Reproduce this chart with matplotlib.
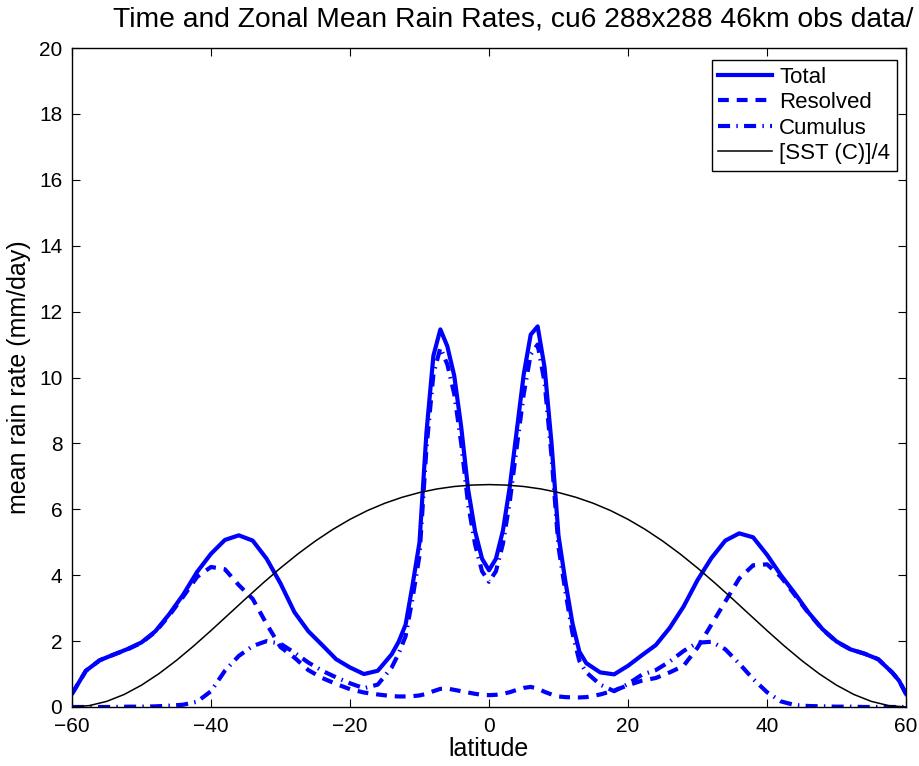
import numpy as np
import matplotlib
matplotlib.use("Agg")
import matplotlib.pyplot as plt

plt.rcParams['font.family'] = ['Liberation Sans', 'DejaVu Sans']

lat = [-60, -59, -58, -56, -54, -52, -50, -48, -46, -44, -42, -40, -38, -36, -34, -32,
       -30, -28, -26, -24, -22, -20, -18, -16, -14, -13, -12, -11, -10, -9, -8, -7, -6,
       -5, -4, -3, -2, -1, 0, 1, 2, 3, 4, 5, 6, 7, 8, 9, 10, 11, 12, 13, 14, 16, 18, 20,
       22, 24, 26, 28, 30, 32, 34, 36, 38, 40, 42, 44, 46, 48, 50, 52, 54, 56, 58, 59, 60]

total = [0.40, 0.75, 1.10, 1.42, 1.59, 1.76, 1.96, 2.30, 2.82, 3.41, 4.10, 4.65, 5.07, 5.21,
         5.05, 4.50, 3.75, 2.88, 2.30, 1.88, 1.45, 1.20, 1.00, 1.10, 1.60, 1.98, 2.50, 3.70,
         5.00, 8.33, 10.66, 11.46, 10.95, 10.05, 8.50, 6.60, 5.33, 4.50, 4.15, 4.50, 5.35,
         6.70, 8.40, 10.10, 11.30, 11.55, 10.30, 8.00, 5.20, 3.80, 2.55, 1.68, 1.33, 1.05,
         0.99, 1.25, 1.57, 1.88, 2.40, 3.05, 3.85, 4.52, 5.05, 5.27, 5.15, 4.62, 4.00, 3.45,
         2.86, 2.36, 1.99, 1.75, 1.62, 1.45, 1.05, 0.80, 0.40]

resolved = [0.40, 0.75, 1.10, 1.42, 1.59, 1.75, 1.95, 2.28, 2.78, 3.35, 3.95, 4.25, 4.18, 3.70,
            3.28, 2.52, 1.82, 1.50, 1.12, 0.88, 0.70, 0.54, 0.44, 0.38, 0.33, 0.32, 0.32, 0.33,
            0.35, 0.40, 0.48, 0.55, 0.56, 0.52, 0.48, 0.44, 0.40, 0.37, 0.36, 0.37, 0.40, 0.45,
            0.52, 0.58, 0.61, 0.56, 0.46, 0.38, 0.32, 0.30, 0.29, 0.29, 0.30, 0.38, 0.50, 0.66,
            0.80, 0.88, 1.05, 1.25, 1.80, 2.50, 3.20, 3.90, 4.30, 4.33, 3.95, 3.40, 2.84, 2.35,
            1.98, 1.75, 1.62, 1.45, 1.05, 0.80, 0.40]

cumulus = [0.0, 0.0, 0.0, 0.0, 0.0, 0.01, 0.01, 0.02, 0.04, 0.07, 0.16, 0.48, 1.10, 1.55, 1.85,
           2.00, 1.92, 1.65, 1.35, 1.10, 0.90, 0.72, 0.57, 0.68, 1.20, 1.62, 2.15, 3.30, 4.60,
           7.85, 10.10, 10.90, 10.40, 9.50, 8.00, 6.15, 4.93, 4.12, 3.80, 4.12, 4.95, 6.25,
           7.90, 9.50, 10.70, 11.00, 9.85, 7.60, 4.85, 3.50, 2.25, 1.40, 1.05, 0.68, 0.48,
           0.70, 0.98, 1.12, 1.38, 1.70, 1.95, 1.98, 1.75, 1.32, 0.85, 0.45, 0.17, 0.06, 0.03,
           0.02, 0.01, 0.01, 0.0, 0.0, 0.0, 0.0, 0.0]

sst_lat = [-60, -57.5, -55, -52.5, -50, -47.5, -45, -42.5, -40, -37.5, -35, -32.5, -30, -27.5,
           -25, -22.5, -20, -17.5, -15, -12.5, -10, -7.5, -5, -2.5, 0, 2.5, 5, 7.5, 10, 12.5,
           15, 17.5, 20, 22.5, 25, 27.5, 30, 32.5, 35, 37.5, 40, 42.5, 45, 47.5, 50, 52.5, 55,
           57.5, 60]
sst_quarter = [0.000, 0.043, 0.171, 0.380, 0.663, 1.010, 1.410, 1.851, 2.320, 2.804, 3.289,
               3.764, 4.219, 4.645, 5.035, 5.386, 5.695, 5.961, 6.183, 6.365, 6.509, 6.617,
               6.692, 6.735, 6.750, 6.735, 6.692, 6.617, 6.509, 6.365, 6.183, 5.961, 5.695,
               5.386, 5.035, 4.645, 4.219, 3.764, 3.289, 2.804, 2.320, 1.851, 1.410, 1.010,
               0.663, 0.380, 0.171, 0.043, 0.000]

xticks = [-60, -40, -20, 0, 20, 40, 60]
yticks = [0, 2, 4, 6, 8, 10, 12, 14, 16, 18, 20]

W, H = 920, 766
fig = plt.figure(figsize=(W / 100, H / 100), dpi=100)
ax = fig.add_axes([72 / W, 1 - 707 / H, (906 - 72) / W, (707 - 48) / H])

blue = '#0000ff'
lw = 3.0
ax.plot(lat, total, color=blue, lw=lw, solid_joinstyle='round', label='Total')
l2, = ax.plot(lat, resolved, color=blue, lw=lw, label='Resolved')
l2.set_dashes((2.6, 1.9))
l3, = ax.plot(lat, cumulus, color=blue, lw=lw, label='Cumulus')
l3.set_dashes((2.9, 1.5, 0.35, 1.5))
ax.plot(sst_lat, sst_quarter, color='black', lw=1.1, label='[SST (C)]/4')

ax.set_xlim(-60, 60)
ax.set_ylim(0, 20)
ax.set_xticks(xticks)
ax.set_yticks(yticks)
ax.tick_params(direction='in', length=6, width=0.8, labelsize=15,
               top=True, right=True, pad=7)
for sp in ax.spines.values():
    sp.set_linewidth(1.0)

ax.set_xlabel('latitude', fontsize=18, labelpad=1)
ax.set_ylabel('mean rain rate (mm/day)', fontsize=18, labelpad=6)
fig.text(113 / W, 1 - 20 / H, 'Time and Zonal Mean Rain Rates, cu6 288x288 46km obs data/',
         fontsize=20.3, ha='left', va='center')

leg = ax.legend(loc='upper right', bbox_to_anchor=((897 - 72) / 834, (707 - 60) / 659),
                borderaxespad=0, fancybox=False, framealpha=1, edgecolor='black',
                fontsize=16, handlelength=2.4, handletextpad=0.35, labelspacing=0.2,
                borderpad=0.3)
leg.get_frame().set_linewidth(1.0)

fig.savefig('out.png', dpi=100)
